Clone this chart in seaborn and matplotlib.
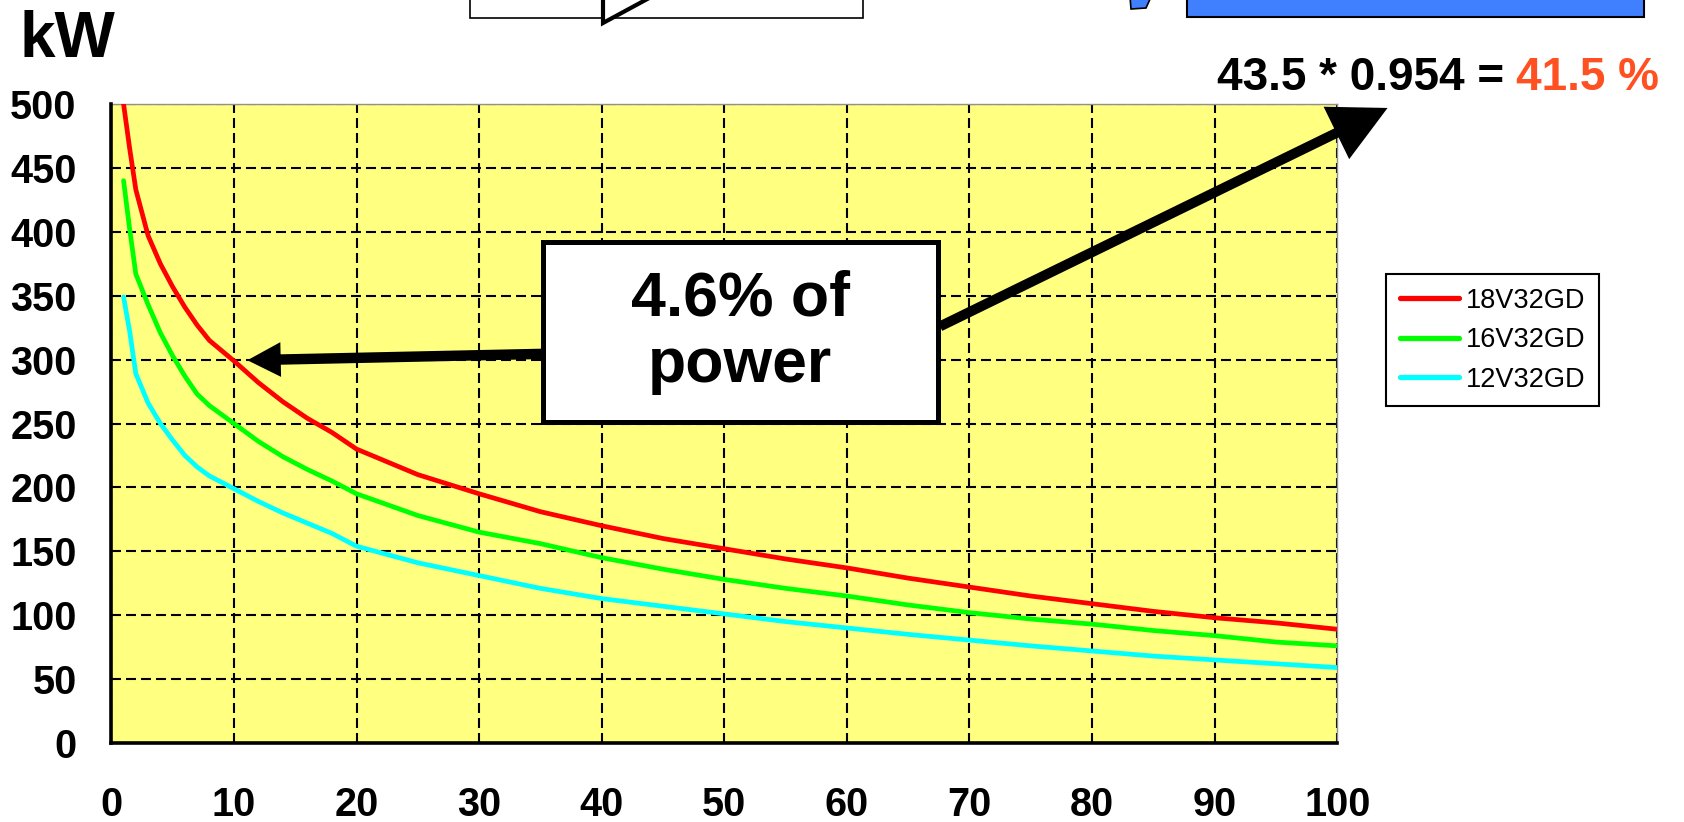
import matplotlib
matplotlib.use('Agg')
import matplotlib.pyplot as plt
from matplotlib.patches import Rectangle, Polygon
import pandas as pd
import seaborn as sns

# ---------------- data ----------------
load_pct = [1, 1.5, 2, 3, 4, 5, 6, 7, 8, 9, 10, 12, 14, 16, 18, 20, 25, 30, 35,
            40, 45, 50, 55, 60, 65, 70, 75, 80, 85, 90, 95, 100]
kw_18v = [500, 465, 433, 397, 375, 357, 341, 327, 315, 307, 299, 282, 267, 254, 243,
          230, 210, 195, 181, 170, 160, 152, 144, 137, 129, 122, 115, 109, 103, 98, 94, 89]
kw_16v = [440, 402, 367, 343, 321, 303, 287, 273, 264, 257, 250, 236, 224, 214, 205,
          195, 178, 165, 156, 145, 136, 128, 121, 115, 108, 102, 97, 93, 88, 84, 79, 76]
kw_12v = [349, 322, 289, 266, 250, 237, 225, 216, 209, 204, 199, 189, 180, 172, 164,
          154, 141, 131, 121, 113, 107, 101, 95, 90, 85, 80.5, 76, 72, 68, 65, 62, 59]
series_names = ['18V32GD', '16V32GD', '12V32GD']
series_colors = ['#FF0000', '#00FF00', '#00FFFF']
x_ticks = list(range(0, 101, 10))
y_ticks = list(range(0, 501, 50))
y_unit = 'kW'
box_text = '4.6% of\npower'
calc_black = '43.5 * 0.954 ='
calc_orange = '41.5 %'

# ---------------- style ----------------
sns.set_style('white')
plt.rcParams['font.family'] = ['Liberation Sans', 'DejaVu Sans']
plt.rcParams['text.color'] = 'black'
plt.rcParams['axes.labelcolor'] = 'black'
plt.rcParams['xtick.color'] = 'black'
plt.rcParams['ytick.color'] = 'black'

df = pd.DataFrame({
    'load': load_pct * 3,
    'kW': kw_18v + kw_16v + kw_12v,
    'engine': [n for n in series_names for _ in load_pct],
})

W, H = 1684, 822
fig = plt.figure(figsize=(W / 100, H / 100), dpi=100)
fig.patch.set_facecolor('white')


def fp(x, y):
    return (x / W, 1 - y / H)


ax = fig.add_axes([111.3 / W, 1 - 743 / H, (1337.3 - 111.3) / W, (743 - 104) / H])
ax.set_facecolor('#FFFF80')

sns.lineplot(data=df, x='load', y='kW', hue='engine', hue_order=series_names,
             palette=dict(zip(series_names, series_colors)), linewidth=3.4,
             estimator=None, sort=False, ax=ax, zorder=3)

ax.set_xlim(0, 100)
ax.set_ylim(0, 500)
ax.set_xticks(x_ticks)
ax.set_yticks(y_ticks)
ax.set_xlabel('')
ax.set_ylabel('')
ax.grid(True, color='black', linestyle=(0, (4.8, 2.4)), linewidth=1.5)
ax.set_axisbelow(True)

for side in ['left', 'bottom']:
    ax.spines[side].set_color('black')
    ax.spines[side].set_linewidth(2.6)
    ax.spines[side].set_zorder(4)
for side in ['top', 'right']:
    ax.spines[side].set_color('#909090')
    ax.spines[side].set_linewidth(1.0)

ax.tick_params(axis='both', direction='out', length=11, width=2.5, color='black',
               labelsize=28.5, labelcolor='black')
ax.tick_params(axis='y', pad=14)
ax.tick_params(axis='x', pad=20)
for lbl in ax.get_xticklabels() + ax.get_yticklabels():
    lbl.set_fontweight('bold')
    lbl.set_color('black')

handles, labels = ax.get_legend_handles_labels()
leg = ax.legend(handles, labels, loc='upper left',
                bbox_to_anchor=fp(1386, 274), bbox_transform=fig.transFigure,
                fontsize=19.5, frameon=True, fancybox=False, edgecolor='black',
                framealpha=1, handlelength=2.2, handletextpad=0.25,
                labelspacing=0.5, borderpad=0.5, borderaxespad=0)
leg.get_frame().set_linewidth(1.5)
for ln in leg.get_lines():
    ln.set_linewidth(3.8)
for t in leg.get_texts():
    t.set_color('black')

# unit label
fig.text(*fp(19, 57), y_unit, fontsize=46, fontweight='bold', ha='left',
         va='baseline', color='black')

# callout box
ax.add_patch(Rectangle((35.2, 251), 32.2, 141, facecolor='white', edgecolor='black',
                       linewidth=3.6, zorder=6))
ax.text(51.3, 321.5, box_text, fontsize=45, fontweight='bold', ha='center',
        va='center', zorder=7, linespacing=1.15, color='black')

# arrows
ax.annotate('', xy=(11.1, 299.5), xytext=(35.2, 304.5),
            arrowprops=dict(arrowstyle='simple,head_length=24,head_width=25,tail_width=7.5',
                            mutation_scale=1, fc='black', ec='none', shrinkA=0, shrinkB=0),
            zorder=5, annotation_clip=False)
ax.annotate('', xy=(104.1, 496.9), xytext=(67.6, 326),
            arrowprops=dict(arrowstyle='simple,head_length=41,head_width=42,tail_width=7.2',
                            mutation_scale=1, fc='black', ec='none', shrinkA=0, shrinkB=0),
            zorder=5, annotation_clip=False)

# calculation text
fig.text(*fp(1504, 90), calc_black, fontsize=33, fontweight='bold', ha='right',
         va='baseline', color='black')
fig.text(*fp(1516, 90), calc_orange, fontsize=33, fontweight='bold', ha='left',
         va='baseline', color='#FF5022')

# partially visible shapes cut off at the top edge
x0, y0 = fp(470, 17.7)
x1, y1 = fp(863, -5)
fig.add_artist(Rectangle((x0, y0), x1 - x0, y1 - y0, transform=fig.transFigure,
                         facecolor='white', edgecolor='black', linewidth=1.2))
fig.add_artist(Polygon([fp(603, 23), fp(603, -3), fp(651, -3)], closed=True,
                       transform=fig.transFigure, facecolor='white',
                       edgecolor='black', linewidth=3))
x0, y0 = fp(1186.5, 16.7)
x1, y1 = fp(1644, -5)
fig.add_artist(Rectangle((x0, y0), x1 - x0, y1 - y0, transform=fig.transFigure,
                         facecolor='#4080FF', edgecolor='black', linewidth=1.5))
fig.add_artist(Polygon([fp(1130, -3), fp(1151, -3), fp(1146, 8), fp(1131, 9)], closed=True,
                       transform=fig.transFigure, facecolor='#4080FF',
                       edgecolor='black', linewidth=1.2))

fig.savefig('out.png', dpi=100, facecolor='white')
